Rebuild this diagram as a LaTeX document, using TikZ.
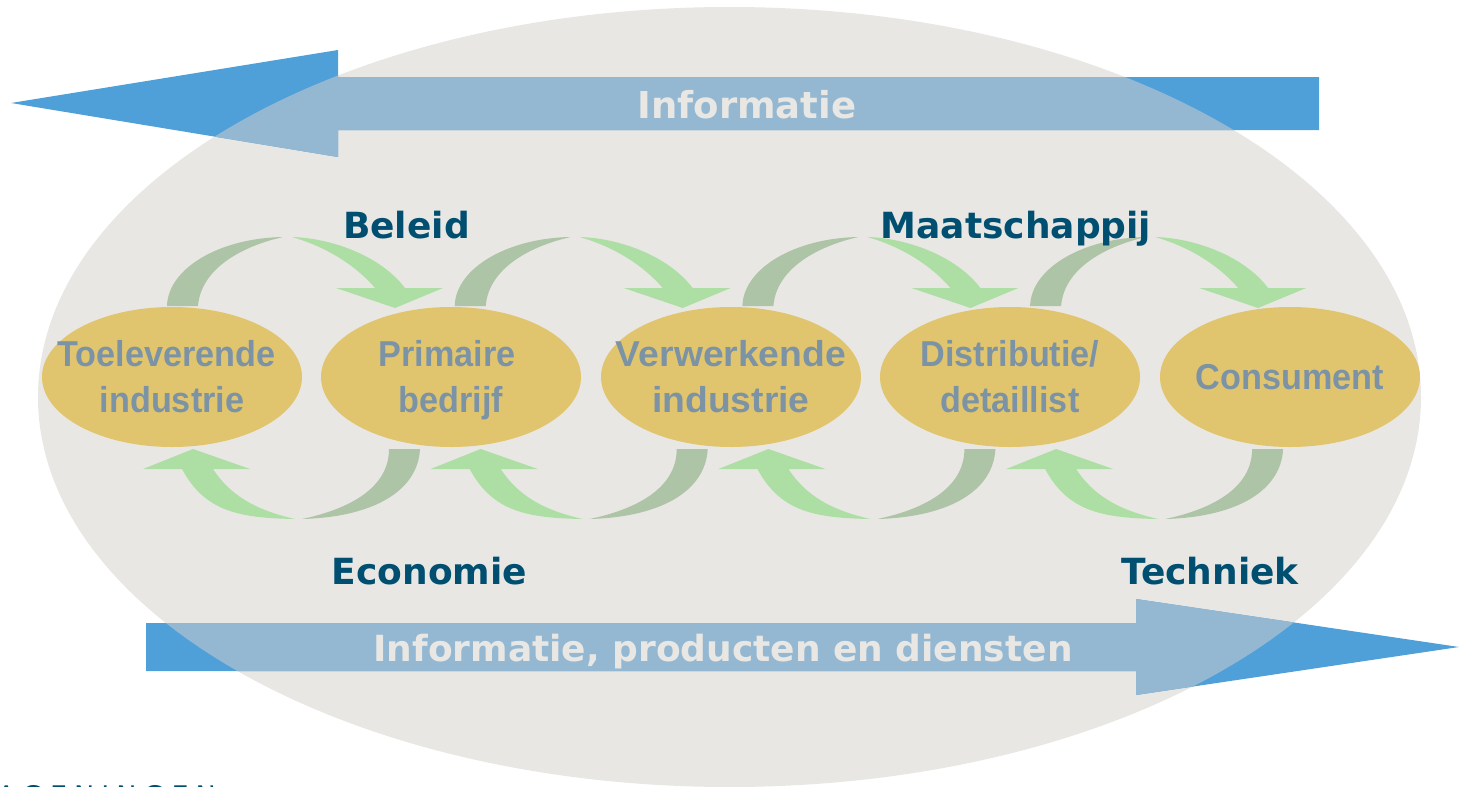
\documentclass[tikz,border=0pt]{standalone}
\usepackage{fontspec}
\setmainfont{DejaVu Sans}
\newfontfamily\ovalfont{Liberation Sans}
\definecolor{bigoval}{HTML}{E9E7E3}
\definecolor{smalloval}{HTML}{E1C56E}
\definecolor{bluearrow}{HTML}{4F9FD8}
\definecolor{paleblue}{HTML}{94B8D2}
\definecolor{ovaltext}{HTML}{7C93A6}
\definecolor{labeltext}{HTML}{004F71}
\definecolor{arcgray}{HTML}{ADC4A6}
\definecolor{arcgreen}{HTML}{ADDFA5}
\usetikzlibrary{shapes.geometric}
\tikzset{
  stage/.style={ellipse,fill=smalloval,minimum width=260,minimum height=140,inner sep=0pt},
  stagetext/.style={align=center,inner sep=0pt,xscale=0.95,yshift=-3pt,text=ovaltext,font=\ovalfont\bfseries\fontsize{36}{46}\selectfont},
  factor/.style={anchor=base,text=labeltext,font=\bfseries\fontsize{36}{44}\selectfont,inner sep=0pt},
  flowtext/.style={anchor=base,text=bigoval,inner sep=0pt},
  backarc/.style={fill=arcgray},
  forearc/.style={fill=arcgreen},
}
\def\topflow{(1319,77) -- (338,77) -- (338,50) -- (11,103) -- (338,157) -- (338,130) -- (1319,130) -- cycle}
\def\botflow{(146,623) -- (1136,623) -- (1136,599) -- (1459,647) -- (1136,695) -- (1136,671) -- (146,671) -- cycle}
\begin{document}
\begin{tikzpicture}[x=1pt,y=-1pt]
\useasboundingbox (0,0) rectangle (1459,787);
\fill[bigoval] (729.5,397) ellipse [x radius=691.5,y radius=390];
\fill[bluearrow] \topflow;
\fill[bluearrow] \botflow;
\begin{scope}
  \clip (729.5,397) ellipse [x radius=691.5,y radius=390];
  \fill[paleblue] \topflow;
  \fill[paleblue] \botflow;
\end{scope}
\node[flowtext,font=\bfseries\fontsize{37}{44}\selectfont] (info) at (747,118) {Informatie};
\node[flowtext,font=\bfseries\fontsize{36}{44}\selectfont] (prod) at (723,661) {Informatie, producten en diensten};
\foreach \dx in {0,287.7,575.4,863.1}{
\begin{scope}[xshift=\dx pt]
  \fill[backarc] (167,306) .. controls (168,268) and (220,238) .. (283,237) .. controls (243,246) and (201,268) .. (198,306) -- cycle;
  \fill[forearc] (292,237) .. controls (330,238) and (380,255) .. (405,288) -- (443,288) -- (395,308) -- (336,288) -- (375,288) .. controls (358,268) and (330,248) .. (292,237) -- cycle;
  \fill[backarc] (389,449) -- (420,449) .. controls (418,490) and (375,517) .. (302,519) .. controls (345,510) and (389,490) .. (389,449) -- cycle;
  \fill[forearc] (295,519) .. controls (240,518) and (205,512) .. (182,469) -- (143,469) -- (193,449) -- (250,469) -- (213,469) .. controls (230,495) and (255,510) .. (295,519) -- cycle;
\end{scope}}
\node[stage] (a) at (172,377) {};
\node[stage] (b) at (451,377) {};
\node[stage] (c) at (731,377) {};
\node[stage] (d) at (1010,377) {};
\node[stage] (e) at (1290,377) {};
\node[stagetext] (at) at (a) {\strut\hspace*{-12pt}Toeleverende\\\strut industrie};
\node[stagetext] (bt) at (b) {\strut\hspace*{-8pt}Primaire\\\strut bedrijf};
\node[stagetext,xscale=1.09] (ct) at (c) {\strut Verwerkende\\\strut industrie};
\node[stagetext] (dt) at (d) {\strut Distributie/\\\strut detaillist};
\node[stagetext] (et) at (e) {\strut Consument};
\node[factor] (beleid) at (406.5,238) {Beleid};
\node[factor] (maat) at (1016,238) {Maatschappij};
\node[factor] (eco) at (429.5,584) {Economie};
\node[factor] (tech) at (1210,584) {Techniek};
\node[anchor=base west,inner sep=0pt,text=labeltext,font=\fontsize{27}{30}\selectfont] (logo) at (-3,805) {\addfontfeature{LetterSpace=26}AGENINGEN};
\end{tikzpicture}
\end{document}
